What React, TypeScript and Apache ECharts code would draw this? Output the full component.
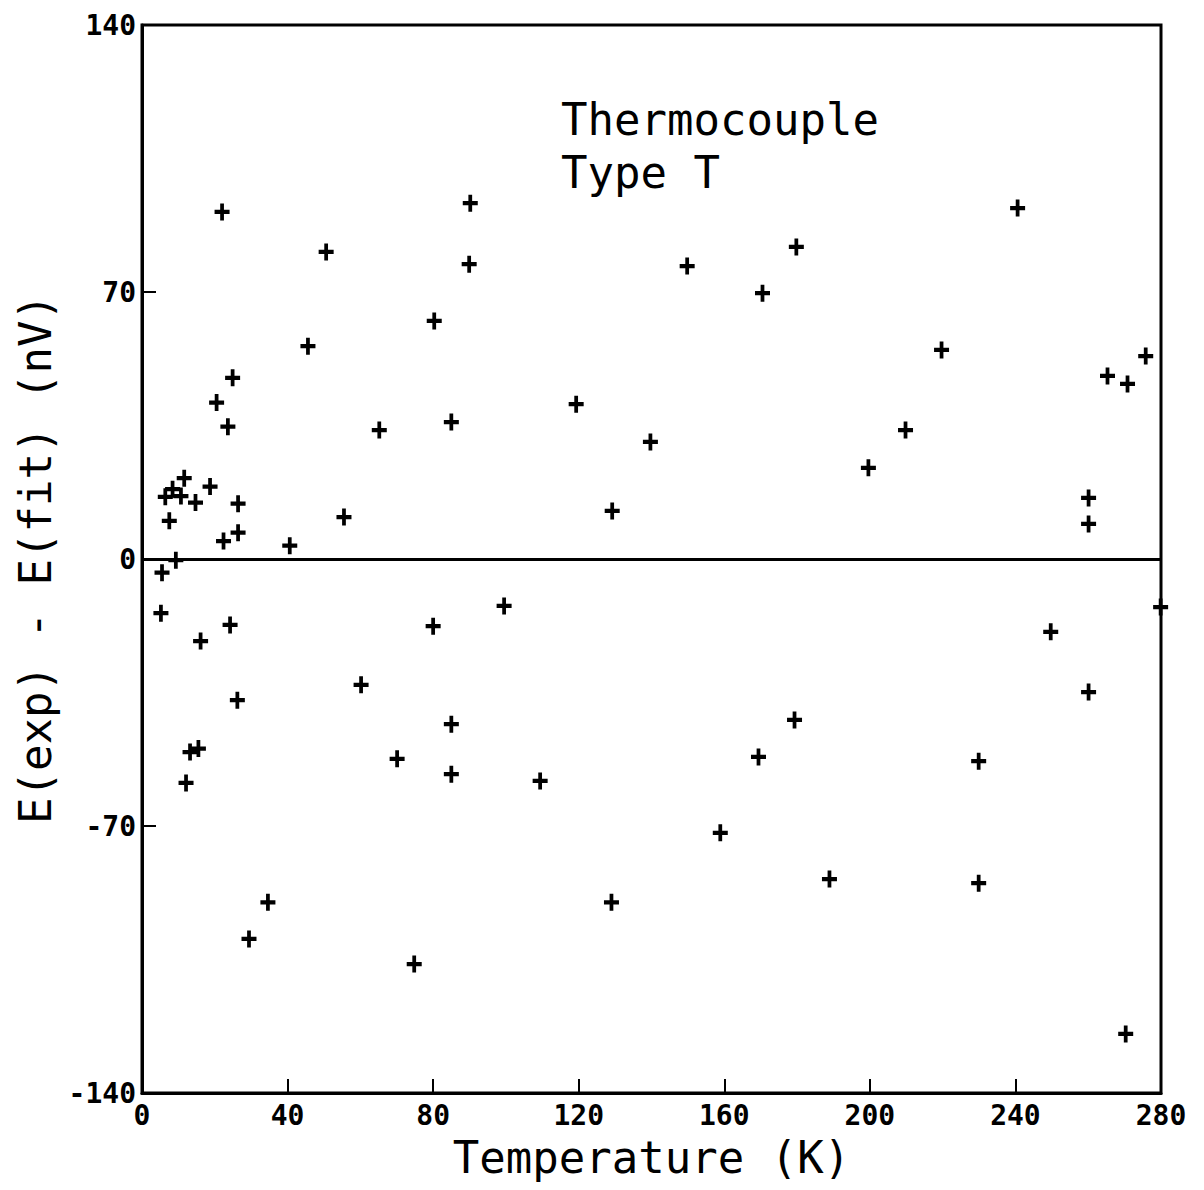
import React, { useEffect, useRef } from "react";
import * as echarts from "echarts";

const temperatureK = [
  5.5, 5.2, 6.4, 7.5, 8.4, 9.3, 10.7, 11.6, 12.1, 13.2, 14.7, 15.5, 16.1, 18.7,
  20.5, 22, 22.4, 23.6, 24.2, 24.9, 26.2, 26.4, 26.4, 29.4, 34.6, 40.6, 45.6,
  50.6, 55.5, 60.2, 65.2, 70.1, 74.8, 80.3, 80, 85, 85, 85, 90.2, 89.9, 99.5,
  109.4, 119.3, 129.2, 129, 139.7, 149.8, 158.9, 169.4, 170.5, 179.3, 179.8,
  188.9, 199.6, 209.8, 219.7, 229.9, 229.9, 240.6, 249.7, 260.1, 260.1, 260.1,
  265.3, 270.8, 275.8, 270.3, 279.9,
];
const deviationNV = [
  -3.6, -14.2, 16.3, 10, 18.3, -0.3, 16.5, 21.2, -58.7, -50.6, 14.8, -49.7,
  -21.5, 19, 41, 91, 4.7, 34.7, -17.3, 47.5, -37, 14.5, 6.9, -99.6, -90, 3.5,
  55.8, 80.5, 11, -33, 33.8, -52.4, -106.2, 62.4, -17.6, 35.9, -43.3, -56.4,
  93.3, 77.3, -12.3, -58.2, 40.6, 12.6, -90, 30.7, 76.8, -71.8, -51.9, 69.7,
  -42.2, 81.8, -83.9, 23.9, 33.8, 54.8, -53, -85, 92, -19.1, 16, 9.2, -34.9,
  48, 45.9, 53.2, -124.5, -12.6,
];
const xTicks = { min: 0, max: 280, interval: 40 };
const yTicks = { min: -140, max: 140, interval: 70 };
const titleLines = ["Thermocouple", "Type T"];
const xName = "Temperature (K)";
const yName = "E(exp) - E(fit) (nV)";

const MONO = "'DejaVu Sans Mono', 'Liberation Mono', monospace";

export default function App() {
  const ref = useRef<HTMLDivElement>(null);
  useEffect(() => {
    document.body.style.margin = "0";
    const chart = echarts.init(ref.current!, null, { renderer: "svg" });
    const data = temperatureK.map((t, i) => [t, deviationNV[i]]);
    chart.setOption({
      animation: false,
      backgroundColor: "#ffffff",
      title: {
        text: titleLines.join("\n"),
        left: 556,
        top: 88,
        textStyle: {
          fontFamily: MONO,
          fontSize: 44,
          fontWeight: "normal",
          color: "#000",
          lineHeight: 53,
        },
      },
      grid: {
        left: 142,
        right: 43,
        top: 25,
        bottom: 97,
        show: true,
        borderColor: "#000",
        borderWidth: 3,
        backgroundColor: "transparent",
      },
      xAxis: {
        type: "value",
        min: xTicks.min,
        max: xTicks.max,
        interval: xTicks.interval,
        name: xName,
        nameLocation: "middle",
        nameGap: 42,
        nameTextStyle: { fontFamily: MONO, fontSize: 44, color: "#000" },
        axisLine: { show: true, onZero: false, lineStyle: { color: "#000", width: 3 } },
        axisTick: { show: true, inside: true, length: 14, lineStyle: { color: "#000", width: 2 } },
        axisLabel: {
          fontFamily: MONO,
          fontSize: 28,
          fontWeight: "bold",
          color: "#000",
          margin: 8,
        },
        splitLine: { show: false },
      },
      yAxis: {
        type: "value",
        min: yTicks.min,
        max: yTicks.max,
        interval: yTicks.interval,
        name: yName,
        nameLocation: "middle",
        nameRotate: 90,
        nameGap: 80,
        nameTextStyle: { fontFamily: MONO, fontSize: 44, color: "#000" },
        axisLine: { show: true, onZero: false, lineStyle: { color: "#000", width: 3 } },
        axisTick: { show: true, inside: true, length: 14, lineStyle: { color: "#000", width: 2 } },
        axisLabel: {
          fontFamily: MONO,
          fontSize: 28,
          fontWeight: "bold",
          color: "#000",
          margin: 6,
        },
        splitLine: { show: false },
      },
      series: [
        {
          type: "scatter",
          data,
          symbol: "path://M6,0H10V6H16V10H10V16H6V10H0V6H6Z",
          symbolSize: [15, 17],
          itemStyle: { color: "#000", opacity: 1 },
          markLine: {
            silent: true,
            symbol: ["none", "none"],
            label: { show: false },
            lineStyle: { color: "#000", width: 3, type: "solid" },
            data: [{ yAxis: 0 }],
          },
        },
      ],
    });
    return () => chart.dispose();
  }, []);
  return <div ref={ref} style={{ width: 1204, height: 1190 }} />;
}
